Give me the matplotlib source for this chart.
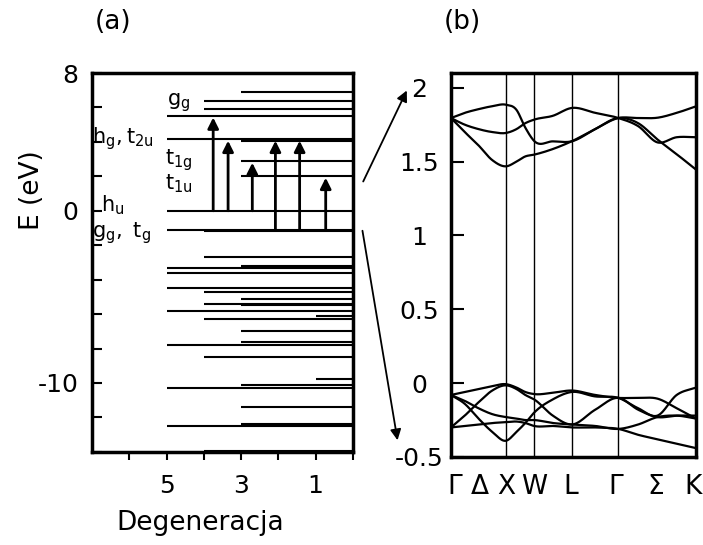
import numpy as np
import matplotlib
matplotlib.use('Agg')
import matplotlib.pyplot as plt

plt.rcParams['font.family'] = 'DejaVu Sans'

# --- (a) poziomy energetyczne C60: energia [eV] i degeneracja ---
level_E = [6.9, 6.4, 5.9, 5.5, 4.15, 4.08, 2.87, 2.0, 0.0, -1.1, -1.15,
           -2.7, -3.2, -3.3, -3.6, -4.5, -4.7, -5.1, -5.4, -5.5, -5.8, -6.1,
           -6.3, -7.0, -7.6, -7.8, -8.5, -9.8, -10.1, -10.3, -11.4, -12.4,
           -12.5, -13.95]
level_deg = [3, 4, 4, 5, 5, 3, 3, 3, 5, 5, 4,
             4, 3, 5, 5, 5, 4, 3, 4, 3, 5, 1,
             4, 3, 3, 5, 4, 1, 3, 5, 3, 3,
             5, 4]

# przejścia optyczne: pozycja x (degeneracja), energia początkowa, końcowa
trans_x = [3.75, 3.35, 2.7, 2.08, 1.43, 0.73]
trans_from = [0.0, 0.0, 0.0, -1.1, -1.1, -1.1]
trans_to = [5.5, 4.15, 2.87, 4.15, 4.15, 2.0]

level_labels = [r'$\mathregular{g_g}$', r'$\mathregular{h_g,t_{2u}}$',
                r'$\mathregular{t_{1g}}$', r'$\mathregular{t_{1u}}$',
                r'$\mathregular{h_u}$', r'$\mathregular{g_g,\ t_g}$']
label_x = [5.0, 7.0, 5.05, 5.05, 6.75, 7.0]
label_E = [6.3, 4.2, 2.95, 1.6, 0.35, -1.3]

# --- (b) struktura pasmowa ---
k = [0, 0.25, 0.5, 0.75, 1.0, 1.19, 1.35, 1.51, 1.85, 2.19, 2.62, 3.04,
     3.4, 3.75, 4.1, 4.45]
k_sym = [1.0, 1.51, 2.19, 3.04]
k_tick_pos = [0.06, 0.53, 1.0, 1.51, 2.18, 3.0, 3.71, 4.4]
k_tick_lab = ['Γ', 'Δ', 'X', 'W', 'L', 'Γ', 'Σ', 'K']

cond_bands = [
    [1.795, 1.83, 1.855, 1.875, 1.885, 1.85, 1.73, 1.64, 1.637, 1.637, 1.72,
     1.795, 1.795, 1.797, 1.83, 1.874],
    [1.795, 1.75, 1.72, 1.70, 1.694, 1.72, 1.76, 1.784, 1.81, 1.863, 1.83,
     1.795, 1.74, 1.63, 1.665, 1.665],
    [1.795, 1.70, 1.61, 1.51, 1.468, 1.50, 1.535, 1.547, 1.585, 1.637, 1.72,
     1.795, 1.76, 1.65, 1.55, 1.446],
]
val_bands = [
    [-0.08, -0.06, -0.04, -0.02, -0.007, -0.03, -0.06, -0.074, -0.065, -0.05,
     -0.08, -0.10, -0.10, -0.105, -0.17, -0.24],
    [-0.30, -0.22, -0.13, -0.05, -0.015, -0.04, -0.08, -0.11, -0.22, -0.28,
     -0.18, -0.10, -0.18, -0.23, -0.22, -0.22],
    [-0.08, -0.14, -0.24, -0.33, -0.39, -0.33, -0.27, -0.20, -0.11, -0.06,
     -0.09, -0.10, -0.17, -0.22, -0.08, -0.03],
    [-0.08, -0.12, -0.17, -0.21, -0.23, -0.24, -0.25, -0.25, -0.27, -0.28,
     -0.29, -0.31, -0.28, -0.23, -0.22, -0.24],
    [-0.30, -0.29, -0.28, -0.27, -0.265, -0.26, -0.27, -0.29, -0.29, -0.30,
     -0.30, -0.31, -0.35, -0.38, -0.41, -0.44],
]


def smooth(x, y, n=25):
    # gładka krzywa (Hermite) przez odczytane punkty
    x = np.asarray(x, float)
    y = np.asarray(y, float)
    m = np.gradient(y, x)
    xs, ys = [], []
    t = np.linspace(0, 1, n, endpoint=False)
    for i in range(len(x) - 1):
        h = x[i + 1] - x[i]
        h00 = 2 * t**3 - 3 * t**2 + 1
        h10 = t**3 - 2 * t**2 + t
        h01 = -2 * t**3 + 3 * t**2
        h11 = t**3 - t**2
        xs.append(x[i] + t * h)
        ys.append(h00 * y[i] + h10 * h * m[i] + h01 * y[i + 1] + h11 * h * m[i + 1])
    xs.append([x[-1]])
    ys.append([y[-1]])
    return np.concatenate(xs), np.concatenate(ys)


fig = plt.figure(figsize=(7.03, 5.45), dpi=100)
ax1 = fig.add_axes([0.131, 0.171, 0.371, 0.695])
ax2 = fig.add_axes([0.6415, 0.1615, 0.3485, 0.7046])

# panel (a)
for E, d in zip(level_E, level_deg):
    ax1.hlines(E, d, 0, color='k', lw=1.5)
for x, e0, e1 in zip(trans_x, trans_from, trans_to):
    ax1.annotate('', xy=(x, e1), xytext=(x, e0),
                 arrowprops=dict(arrowstyle='-|>', color='k', lw=2,
                                 mutation_scale=16, shrinkA=0, shrinkB=1))
for lab, x, E in zip(level_labels, label_x, label_E):
    ax1.text(x, E, lab, fontsize=15, ha='left', va='center')

ax1.set_xlim(7, 0)
ax1.set_ylim(-14, 8)
ax1.set_yticks(range(-14, 9, 2))
ax1.set_yticklabels(['-10' if v == -10 else str(v) if v in (0, 8) else ''
                     for v in range(-14, 9, 2)])
ax1.set_xticks(range(0, 7))
ax1.set_xticklabels(['1' if v == 1 else '3' if v == 3 else '5' if v == 5 else ''
                     for v in range(0, 7)])
ax1.tick_params(axis='y', direction='in', length=7, width=1.5, labelsize=18, pad=10)
ax1.tick_params(axis='x', direction='out', length=6, width=1.5, labelsize=18, pad=10)
for s in ax1.spines.values():
    s.set_linewidth(2.5)

# panel (b)
for b in cond_bands + val_bands:
    xs, ys = smooth(k, b)
    ax2.plot(xs, ys, color='k', lw=1.6)
for ks in k_sym:
    ax2.axvline(ks, color='k', lw=1.0)
ax2.set_xlim(0, 4.45)
ax2.set_ylim(-0.5, 2.1)
ax2.set_yticks([-0.5, 0, 0.5, 1, 1.5, 2])
ax2.set_yticklabels(['-0.5', '0', '0.5', '1', '1.5', '2'], ha='center')
ax2.set_xticks(k_tick_pos)
ax2.set_xticklabels(k_tick_lab)
ax2.tick_params(axis='y', direction='in', length=9, width=1.5, labelsize=18, pad=23)
ax2.tick_params(axis='x', length=0, labelsize=19, pad=12)
for s in ax2.spines.values():
    s.set_linewidth(2.5)

# strzałki między panelami
fig.add_artist(matplotlib.patches.FancyArrowPatch(
    (362, 361), (408, 457), transform=None, arrowstyle='-|>',
    mutation_scale=16, color='k', lw=1.3))
fig.add_artist(matplotlib.patches.FancyArrowPatch(
    (362, 317), (398, 102), transform=None, arrowstyle='-|>',
    mutation_scale=16, color='k', lw=1.3))

fig.text(113 / 703, 1 - 22 / 545, '(a)', fontsize=19, ha='center', va='center')
fig.text(462 / 703, 1 - 22 / 545, '(b)', fontsize=19, ha='center', va='center')
fig.text(32 / 703, 1 - 190 / 545, 'E (eV)', fontsize=19, rotation=90,
         ha='center', va='center')
fig.text(200 / 703, 1 - 523 / 545, 'Degeneracja', fontsize=19,
         ha='center', va='center')

fig.savefig('out.png', dpi=100)
